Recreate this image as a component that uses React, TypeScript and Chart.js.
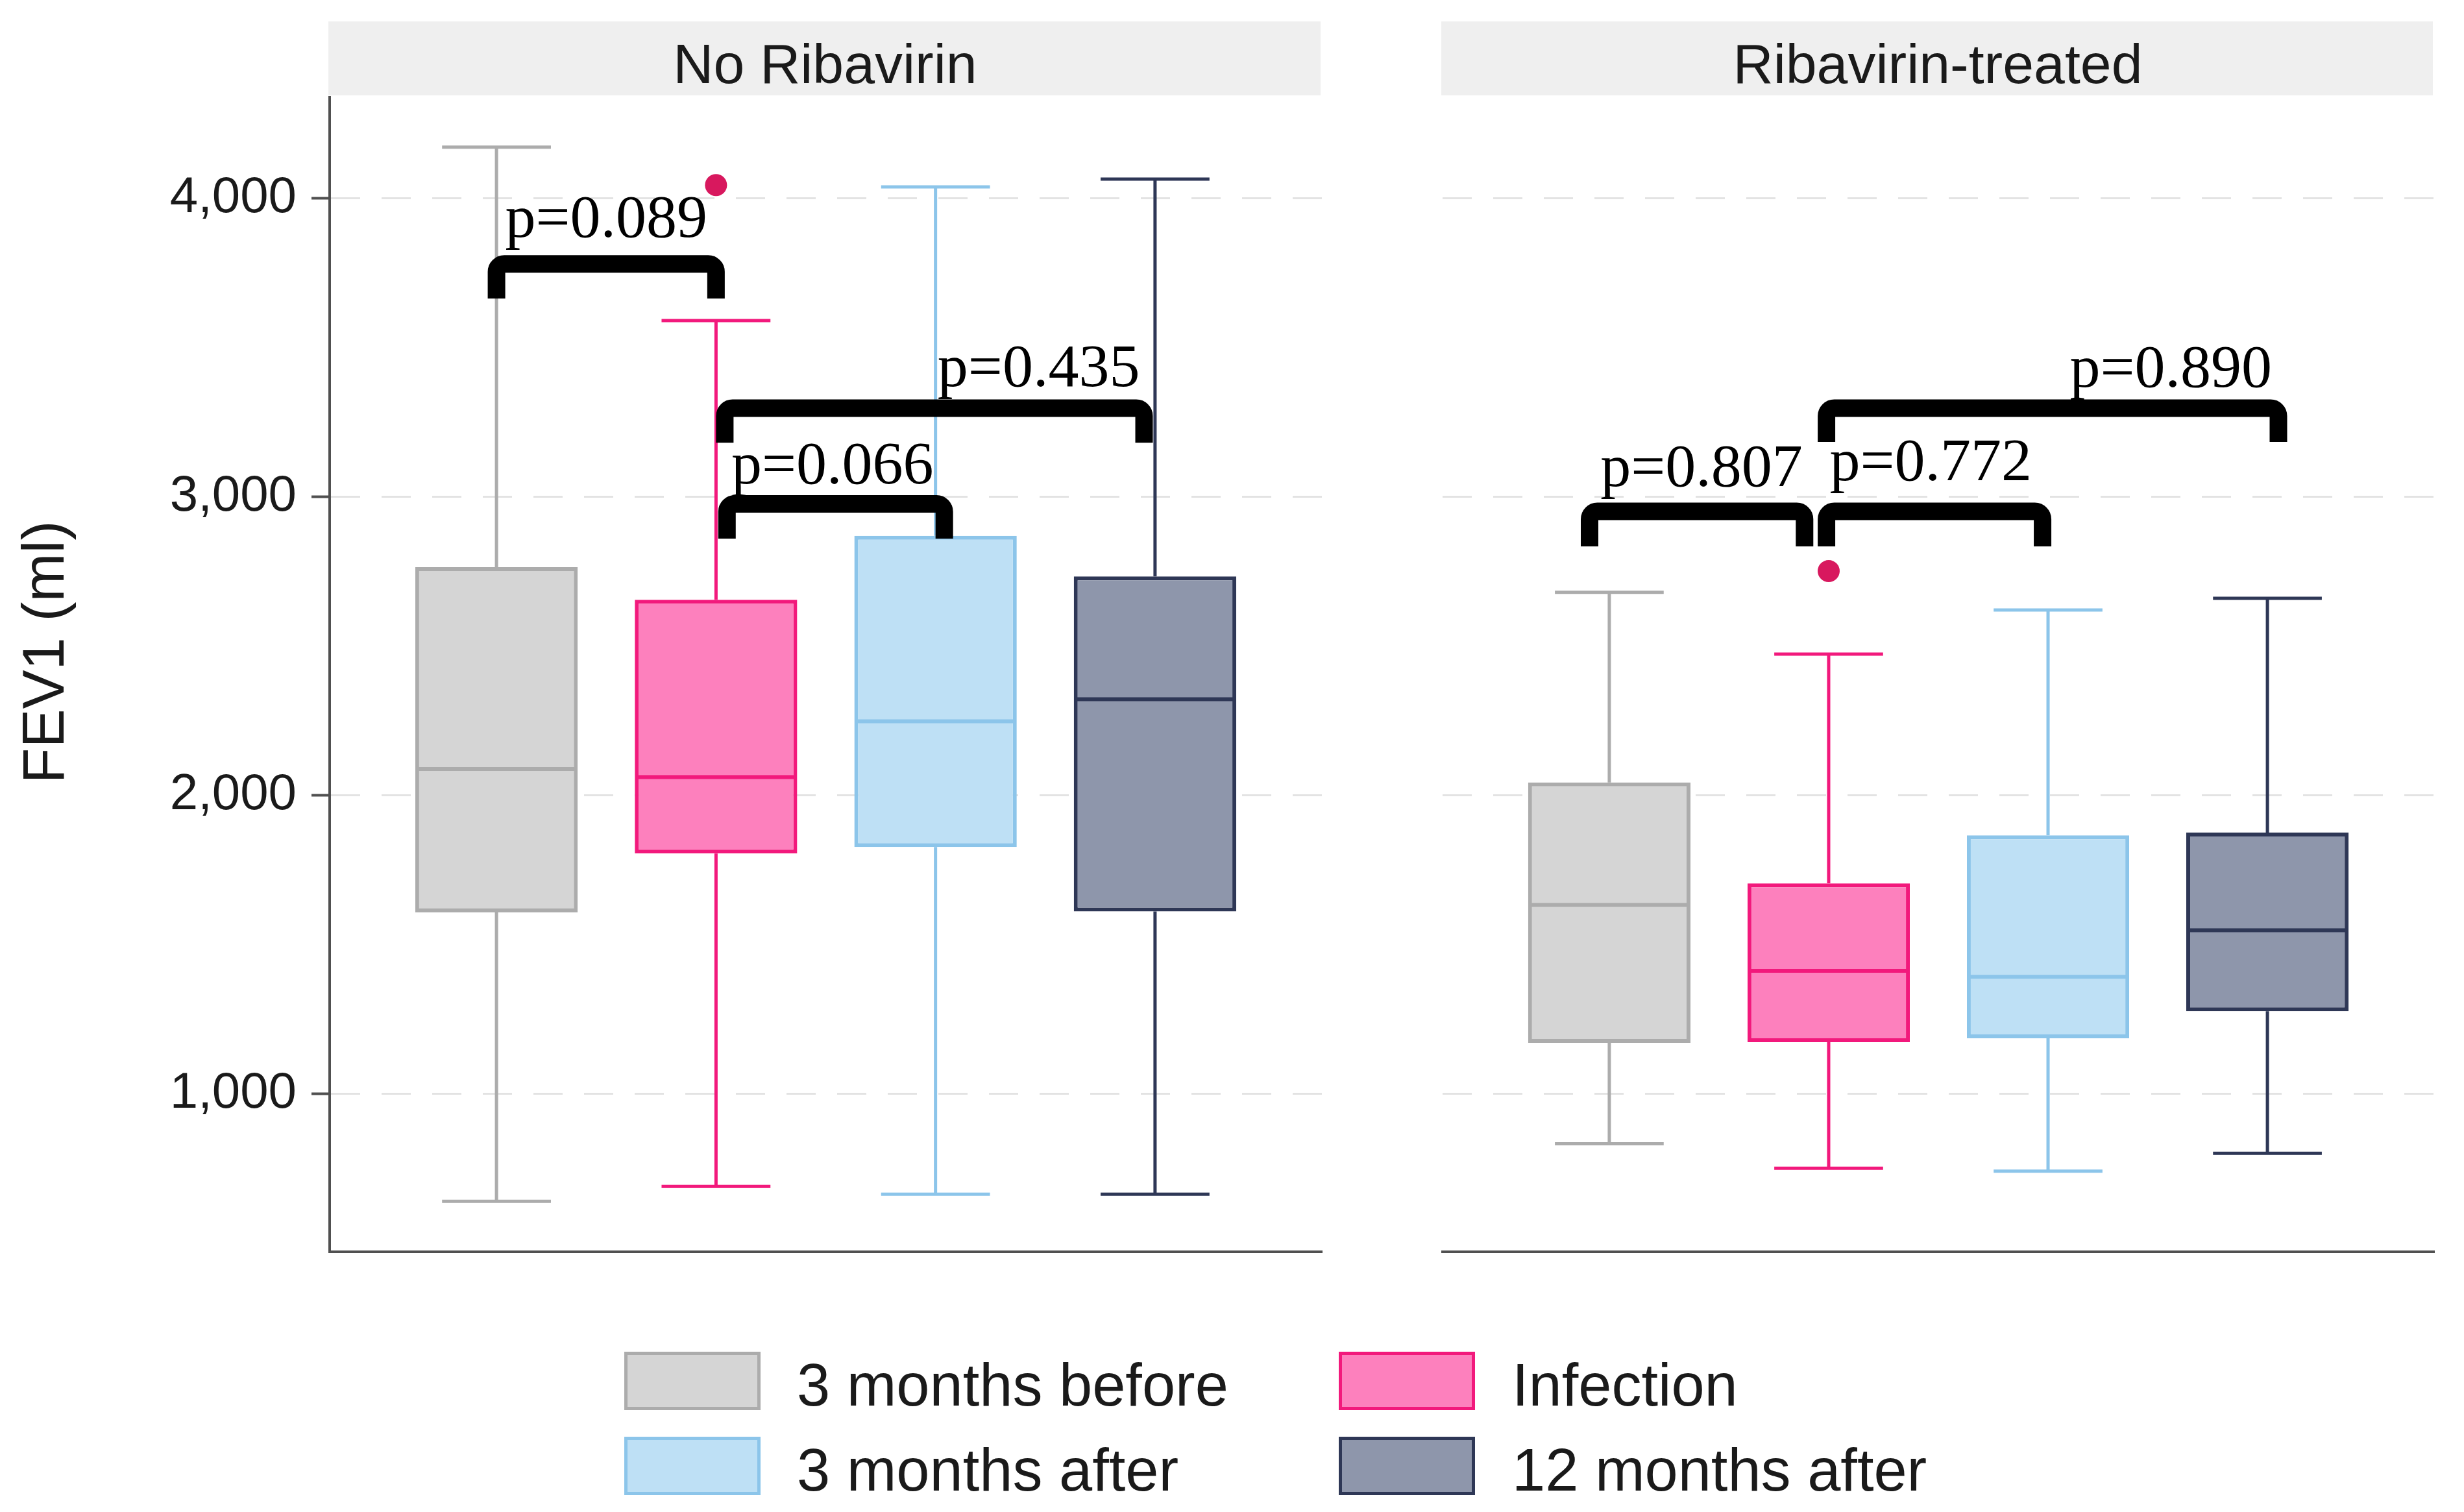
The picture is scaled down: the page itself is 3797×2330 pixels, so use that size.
import React, { useEffect, useRef } from "react";
import { Chart, registerables } from "chart.js";

Chart.register(...registerables);

// ---------- data ----------
const timepoints = ["3 months before", "Infection", "3 months after", "12 months after"];
const panelNames = ["No Ribavirin", "Ribavirin-treated"];
const groupIndex = [0, 1, 2, 3];

// No Ribavirin: five-number summaries (ml)
const noRibaMin = [639, 689, 663, 663];
const noRibaQ1 = [1607, 1804, 1826, 1610];
const noRibaMedian = [2087, 2060, 2247, 2321];
const noRibaQ3 = [2763, 2654, 2868, 2732];
const noRibaMax = [4170, 3589, 4037, 4063];
const noRibaOutlierGroup = [1];
const noRibaOutlierValue = [4043];

// Ribavirin-treated: five-number summaries (ml)
const ribaMin = [832, 750, 740, 800];
const ribaQ1 = [1170, 1172, 1185, 1276];
const ribaMedian = [1632, 1411, 1391, 1547];
const ribaQ3 = [2042, 1704, 1865, 1874];
const ribaMax = [2679, 2472, 2620, 2659];
const ribaOutlierGroup = [1];
const ribaOutlierValue = [2750];

// significance brackets (group index positions, values in ml)
const noRibaBracketFrom = [0, 1.05, 1.04];
const noRibaBracketTo = [1, 2.04, 2.95];
const noRibaBracketY = [3779, 2975, 3296];
const noRibaBracketLeg = [3663, 2859, 3180];
const noRibaBracketLabel = ["p=0.089", "p=0.066", "p=0.435"];
const noRibaLabelX = [0.5, 1.53, 2.47];
const noRibaLabelY = [3870, 3043, 3370];

const ribaBracketFrom = [-0.09, 0.99, 0.99];
const ribaBracketTo = [0.89, 1.975, 3.05];
const ribaBracketY = [2950, 2950, 3296];
const ribaBracketLeg = [2833, 2833, 3183];
const ribaBracketLabel = ["p=0.807", "p=0.772", "p=0.890"];
const ribaLabelX = [0.42, 1.465, 2.56];
const ribaLabelY = [3035, 3054, 3367];

const yTickValues = [1000, 2000, 3000, 4000];
const yMin = 470;
const yMax = 4337;
const yTitle = "FEV1 (ml)";

// ---------- styles ----------
const fillColors = ["#d5d5d5", "#fd80bd", "#bee0f5", "#8e96ab"];
const strokeColors = ["#acacac", "#f2197c", "#8cc5ea", "#2e3756"];
const outlierColor = "#d8185e";
const SANS = '"Liberation Sans", Arial, sans-serif';
const SERIF = '"Liberation Serif", "Times New Roman", serif';

type Panel = {
  name: string;
  min: number[]; q1: number[]; median: number[]; q3: number[]; max: number[];
  outGroup: number[]; outValue: number[];
  bFrom: number[]; bTo: number[]; bY: number[]; bLeg: number[]; bLabel: string[]; lX: number[]; lY: number[];
};

const panels: Panel[] = [
  {
    name: panelNames[0], min: noRibaMin, q1: noRibaQ1, median: noRibaMedian, q3: noRibaQ3, max: noRibaMax,
    outGroup: noRibaOutlierGroup, outValue: noRibaOutlierValue,
    bFrom: noRibaBracketFrom, bTo: noRibaBracketTo, bY: noRibaBracketY, bLeg: noRibaBracketLeg,
    bLabel: noRibaBracketLabel, lX: noRibaLabelX, lY: noRibaLabelY,
  },
  {
    name: panelNames[1], min: ribaMin, q1: ribaQ1, median: ribaMedian, q3: ribaQ3, max: ribaMax,
    outGroup: ribaOutlierGroup, outValue: ribaOutlierValue,
    bFrom: ribaBracketFrom, bTo: ribaBracketTo, bY: ribaBracketY, bLeg: ribaBracketLeg,
    bLabel: ribaBracketLabel, lX: ribaLabelX, lY: ribaLabelY,
  },
];

function makeChart(canvas: HTMLCanvasElement, p: Panel, isLeft: boolean, pad: any) {
  const partsPlugin = {
    id: "boxParts" + (isLeft ? "L" : "R"),
    beforeDatasetsDraw(chart: any) {
      const { ctx, scales } = chart;
      const x = scales.x, y = scales.y;
      const unit = x.getPixelForValue(1) - x.getPixelForValue(0);
      const half = unit * 0.248;
      ctx.save();
      ctx.lineWidth = 5;
      ctx.lineCap = "butt";
      groupIndex.forEach((g: number, i: number) => {
        const cx = x.getPixelForValue(g);
        const yMaxP = y.getPixelForValue(p.max[i]);
        const yMinP = y.getPixelForValue(p.min[i]);
        ctx.strokeStyle = strokeColors[i];
        ctx.beginPath();
        ctx.moveTo(cx, y.getPixelForValue(p.q3[i]));
        ctx.lineTo(cx, yMaxP);
        ctx.moveTo(cx - half, yMaxP);
        ctx.lineTo(cx + half, yMaxP);
        ctx.moveTo(cx, y.getPixelForValue(p.q1[i]));
        ctx.lineTo(cx, yMinP);
        ctx.moveTo(cx - half, yMinP);
        ctx.lineTo(cx + half, yMinP);
        ctx.stroke();
      });
      ctx.restore();
    },
    afterDatasetsDraw(chart: any) {
      const { ctx, scales } = chart;
      const x = scales.x, y = scales.y;
      const meta = chart.getDatasetMeta(0);
      ctx.save();
      ctx.lineWidth = 6;
      meta.data.forEach((el: any, i: number) => {
        const { x: bx, width } = el.getProps(["x", "width"], true);
        const my = y.getPixelForValue(p.median[i]);
        ctx.strokeStyle = strokeColors[i];
        ctx.beginPath();
        ctx.moveTo(bx - width / 2 + 2, my);
        ctx.lineTo(bx + width / 2 - 2, my);
        ctx.stroke();
      });
      // brackets
      ctx.strokeStyle = "#000";
      ctx.lineWidth = 27;
      ctx.lineCap = "butt";
      ctx.lineJoin = "miter";
      p.bFrom.forEach((f: number, k: number) => {
        const x1 = x.getPixelForValue(f);
        const x2 = x.getPixelForValue(p.bTo[k]);
        const yb = y.getPixelForValue(p.bY[k]);
        const yl = y.getPixelForValue(p.bLeg[k]);
        ctx.beginPath();
        ctx.moveTo(x1, yl);
        ctx.arcTo(x1, yb, x2, yb, 12);
        ctx.arcTo(x2, yb, x2, yl, 12);
        ctx.lineTo(x2, yl);
        ctx.stroke();
      });
      ctx.fillStyle = "#000";
      ctx.font = "94px " + SERIF;
      ctx.textAlign = "center";
      ctx.textBaseline = "alphabetic";
      p.bLabel.forEach((t: string, k: number) => {
        ctx.fillText(t, x.getPixelForValue(p.lX[k]), y.getPixelForValue(p.lY[k]));
      });
      ctx.restore();
    },
    afterDraw(chart: any) {
      const { ctx, chartArea } = chart;
      ctx.save();
      ctx.fillStyle = "#efefef";
      ctx.fillRect(chartArea.left - 2, 33, chartArea.right - chartArea.left, 114);
      ctx.fillStyle = "#1a1a1a";
      ctx.font = "86px " + SANS;
      ctx.textAlign = "center";
      ctx.textBaseline = "alphabetic";
      ctx.fillText(p.name, (chartArea.left + chartArea.right) / 2 - 1, 128);
      if (isLeft) {
        ctx.translate(73, 1005);
        ctx.rotate(-Math.PI / 2);
        ctx.font = "90px " + SANS;
        ctx.textBaseline = "middle";
        ctx.fillText(yTitle, 0, 0);
      }
      ctx.restore();
    },
  };

  return new Chart(canvas, {
    type: "bar",
    data: {
      datasets: [
        {
          type: "bar",
          label: "IQR",
          data: groupIndex.map((g, i) => ({ x: g, y: [p.q1[i], p.q3[i]] })) as any,
          backgroundColor: fillColors,
          borderColor: strokeColors,
          borderWidth: 6,
          borderSkipped: false,
          categoryPercentage: 1,
          barPercentage: 0.74,
          grouped: false,
          order: 2,
        } as any,
        {
          type: "scatter",
          label: "Outliers",
          data: p.outGroup.map((g, i) => ({ x: g, y: p.outValue[i] })),
          backgroundColor: outlierColor,
          borderWidth: 0,
          pointRadius: 17,
          order: 1,
        } as any,
      ],
    },
    options: {
      animation: false,
      responsive: false,
      devicePixelRatio: 1,
      layout: { padding: pad },
      plugins: { legend: { display: false }, tooltip: { enabled: false }, title: { display: false } },
      scales: {
        x: {
          type: "linear",
          offset: false,
          min: -0.76,
          max: 3.76,
          afterBuildTicks: (s: any) => { s.ticks = groupIndex.map((v) => ({ value: v })); },
          ticks: { display: false },
          grid: { display: false, drawTicks: false, offset: false },
          border: { display: true, color: "#505050", width: 4 },
          afterFit: (s: any) => { s.height = 0; },
        },
        y: {
          type: "linear",
          min: yMin,
          max: yMax,
          afterBuildTicks: (s: any) => { s.ticks = yTickValues.map((v) => ({ value: v })); },
          ticks: {
            display: isLeft,
            padding: 23,
            color: "#1a1a1a",
            font: { family: SANS, size: 78 },
            callback: (v: any) => Number(v).toLocaleString("en-US"),
          },
          grid: {
            color: "#e3e3e3",
            lineWidth: 3,
            drawTicks: isLeft,
            tickLength: 28,
            tickColor: "#505050",
            tickWidth: 4,
          },
          border: { display: isLeft, color: "#505050", width: 4, dash: [45, 33] },
          afterFit: (s: any) => { s.width = isLeft ? 508 : 0; },
        },
      },
    } as any,
    plugins: [partsPlugin],
  });
}

export default function App() {
  const leftRef = useRef<HTMLCanvasElement>(null);
  const rightRef = useRef<HTMLCanvasElement>(null);

  useEffect(() => {
    const c1 = makeChart(leftRef.current!, panels[0], true, { top: 150, left: 0, right: 63, bottom: 81 });
    const c2 = makeChart(rightRef.current!, panels[1], false, { top: 150, left: 73, right: 46, bottom: 81 });
    return () => { c1.destroy(); c2.destroy(); };
  }, []);

  const legendCols = [962, 2063];
  const legendTextCols = [1228, 2330];
  const legendRows = [2128, 2259];

  return (
    <div style={{ position: "absolute", left: 0, top: 0, width: 3797, height: 2330, background: "#fff", overflow: "hidden" }}>
      <canvas ref={leftRef} width={2100} height={2010} style={{ position: "absolute", left: 0, top: 0, width: 2100, height: 2010 }} />
      <canvas ref={rightRef} width={1647} height={2010} style={{ position: "absolute", left: 2150, top: 0, width: 1647, height: 2010 }} />
      {timepoints.map((t, i) => {
        const col = i % 2;
        const row = Math.floor(i / 2);
        return (
          <React.Fragment key={t}>
            <div
              style={{
                position: "absolute",
                left: legendCols[col],
                top: legendRows[row] - 45,
                width: 210,
                height: 90,
                boxSizing: "border-box",
                border: `5px solid ${strokeColors[i]}`,
                background: fillColors[i],
              }}
            />
            <div
              style={{
                position: "absolute",
                left: legendTextCols[col],
                top: legendRows[row] - 46,
                height: 92,
                lineHeight: "92px",
                font: `92px ${SANS}`,
                color: "#1a1a1a",
                whiteSpace: "nowrap",
              }}
            >
              {t}
            </div>
          </React.Fragment>
        );
      })}
    </div>
  );
}
